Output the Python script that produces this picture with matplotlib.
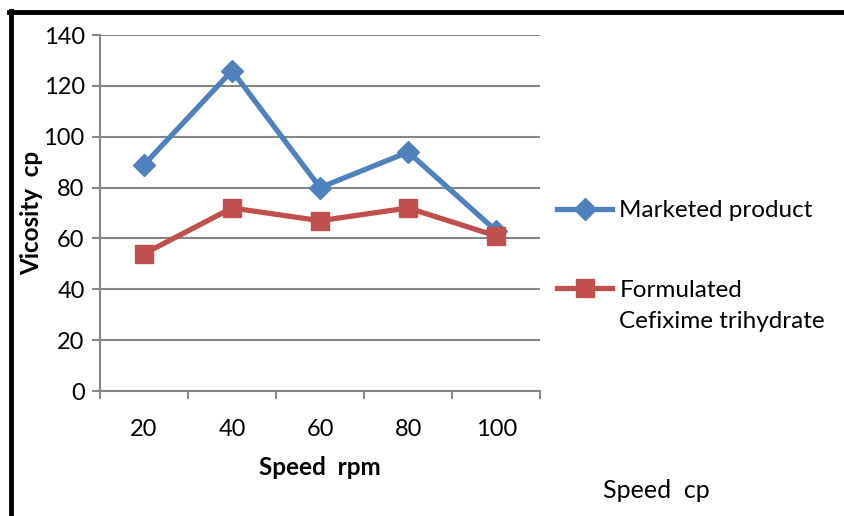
import numpy as np
import matplotlib
matplotlib.use("Agg")
import matplotlib.pyplot as plt
from matplotlib.lines import Line2D

plt.rcParams["font.family"] = ["Lato", "DejaVu Sans"]

speeds = ["20", "40", "60", "80", "100"]
marketed = [89, 126, 80, 94, 63]
formulated = [54, 72, 67, 72, 61]

blue = "#4F81BD"
red = "#C0504D"
grid_col = "#868686"

fig = plt.figure(figsize=(8.44, 5.16), dpi=100)
ax = fig.add_axes([0.1185, 0.2422, 0.5215, 0.6898])

x = np.arange(len(speeds))
ax.plot(x, marketed, color=blue, lw=3.8, marker="D", ms=11, label="Marketed product", zorder=3)
ax.plot(x, formulated, color=red, lw=3.8, marker="s", ms=13, label="Formulated", zorder=3)

ax.set_xlim(-0.5, len(speeds) - 0.5)
ax.set_ylim(0, 140)
ax.set_yticks(np.arange(0, 141, 20))
ax.yaxis.grid(True, color=grid_col, lw=1.5)
ax.set_axisbelow(True)

ax.set_xticks(x)
ax.set_xticklabels(speeds)
ax.set_xticks(np.arange(-0.5, len(speeds)), minor=True)
ax.tick_params(axis="x", which="major", length=0, pad=20, labelsize=17)
ax.tick_params(axis="x", which="minor", length=6, width=1.5, color=grid_col, direction="out")
ax.tick_params(axis="y", length=6, width=1.5, color=grid_col, labelsize=17, pad=5)

for s in ["top", "right"]:
    ax.spines[s].set_visible(False)
for s in ["left", "bottom"]:
    ax.spines[s].set_color(grid_col)
    ax.spines[s].set_linewidth(1.5)

ax.set_xlabel("Speed  rpm", fontsize=17.5, fontweight="bold", labelpad=12)
ax.set_ylabel("Vicosity  cp", fontsize=17.5, fontweight="bold", labelpad=0)

leg = fig.legend(loc="upper left", bbox_to_anchor=(0.66, 0.612), frameon=False,
                 fontsize=17.5, handlelength=2.26, handletextpad=0.3, labelspacing=2.4,
                 borderaxespad=0, borderpad=0)
fig.text(0.733, 0.376, "Cefixime trihydrate", fontsize=17.5, va="center")
fig.text(0.714, 0.05, "Speed  cp", fontsize=18, va="center")

# outer frame (left and top edges)
fig.add_artist(Line2D([0.0125, 0.0125], [0, 0.978], color="black", lw=3.5, transform=fig.transFigure))
fig.add_artist(Line2D([0.0105, 1.0], [0.977, 0.977], color="black", lw=3.5, transform=fig.transFigure))

fig.savefig("out.png", dpi=100)
